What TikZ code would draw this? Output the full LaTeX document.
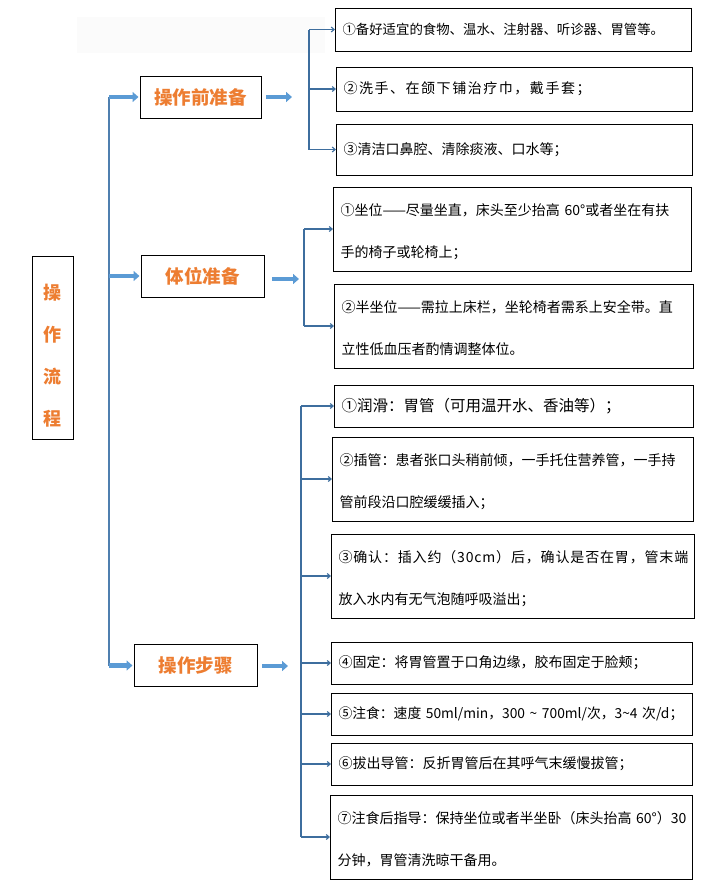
\documentclass[tikz,border=0pt]{standalone}
\usepackage{fontspec}
\setmainfont{Noto Sans CJK SC}
\usetikzlibrary{arrows.meta,calc}
\definecolor{orangeT}{HTML}{ED7D31}
\definecolor{arrowB}{HTML}{5B9BD5}
\definecolor{lineB}{HTML}{3E6E9E}
\definecolor{mainB}{HTML}{4F7FAF}
\definecolor{faintG}{HTML}{FBFBFB}
\begin{document}
\begin{tikzpicture}[x=1pt,y=-1pt,
  every node/.style={inner sep=0pt, outer sep=0pt},
  headbox/.style={draw=black, line width=1pt, minimum height=42pt, text=orangeT,
    font=\fontsize{18.5}{20}\selectfont\bfseries},
  itembox/.style={draw=black, line width=1pt, anchor=north west, align=left,
    inner xsep=7.5pt, font=\fontsize{14}{42}\selectfont},
  bigarrow/.style={line width=4.5pt, draw=arrowB, -{Triangle[length=6pt,width=10pt]}},
  thinline/.style={draw=lineB, line width=1.1pt},
  thinarrow/.style={thinline, -{Straight Barb[length=3pt,width=5pt]}}
]
\useasboundingbox (0,0) rectangle (706,884);
\fill[white] (0,0) rectangle (706,884);
\fill[faintG] (77,17) rectangle (325,53);

% left title
\node[draw=black, line width=1pt, minimum width=41pt, minimum height=183pt] (lc) at (52.5,347.5) {};
\node[text=orangeT, align=center, font=\fontsize{18}{42}\selectfont\bfseries] (lct) at (52.5,355.5) {操\\作\\流\\程};

% headings
\node[headbox, minimum width=121pt] (h1) at (200.5,97) {操作前准备};
\node[headbox, minimum width=123pt] (h2) at (202.5,276) {体位准备};
\node[headbox, minimum width=123pt] (h3) at (195.5,665.5) {操作步骤};

% main bus
\coordinate (mtop) at (109,97);
\draw[draw=mainB, line width=1.3pt] (mtop) -- (mtop |- h3.west);
\foreach \h in {h1,h2,h3}
  \draw[bigarrow, shorten >=1.5pt] (mtop |- \h.west) -- (\h.west);

\coordinate (r1) at (292,97);
\coordinate (r2) at (299,279);
\coordinate (r3) at (288,666);
\draw[bigarrow, shorten <=5pt] (h1.east) -- (r1);
\draw[bigarrow, shorten <=8pt] (h2.east |- r2) -- (r2);
\draw[bigarrow, shorten <=5pt] (h3.east |- r3) -- (r3);

% group A
\node[itembox, text width=341pt, minimum height=43pt, font=\fontsize{13.4}{20}\selectfont] (a1) at (335,8) {\mbox{①备好适宜的食物、温水、注射器、听诊器、胃管等。}};
\node[itembox, text width=341pt, minimum height=44pt] (a2) at (336,67) {\mbox{\addfontfeatures{LetterSpace=11}②洗手、在颌下铺治疗巾，戴手套；}};
\node[itembox, text width=341pt, minimum height=51pt] (a3) at (336,124) {\mbox{③清洁口鼻腔、清除痰液、口水等；}};

% group B
\node[itembox, text width=343pt, minimum height=84pt] (b1) at (333,187) {\rule{0pt}{17pt}\mbox{①坐位——尽量坐直，床头至少抬高 60°或者坐在有扶}\\\mbox{手的椅子或轮椅上；}};
\node[itembox, text width=344pt, minimum height=84pt] (b2) at (334,284) {\rule{0pt}{17pt}\mbox{②半坐位——需拉上床栏，坐轮椅者需系上安全带。直}\\\mbox{立性低血压者酌情调整体位。}};

% group C
\node[itembox, text width=344pt, minimum height=42pt, font=\fontsize{15.5}{20}\selectfont] (c1) at (334,385) {\mbox{①润滑：胃管（可用温开水、香油等）；}};
\node[itembox, text width=346pt, minimum height=84pt] (c2) at (332,437) {\rule{0pt}{17pt}\mbox{②插管：患者张口头稍前倾，一手托住营养管，一手持}\\\mbox{管前段沿口腔缓缓插入；}};
\node[itembox, text width=348pt, minimum height=84pt] (c3) at (331,534) {\rule{0pt}{17pt}\mbox{\addfontfeatures{LetterSpace=6}③确认：插入约（30cm）后，确认是否在胃，管末端}\\\mbox{放入水内有无气泡随呼吸溢出；}};
\node[itembox, text width=346pt, minimum height=42pt] (c4) at (331,642) {\mbox{④固定：将胃管置于口角边缘，胶布固定于脸颊；}};
\node[itembox, text width=346pt, minimum height=42pt, font=\fontsize{13.8}{20}\selectfont] (c5) at (331,693) {\mbox{⑤注食：速度 50ml/min，300 \textasciitilde{} 700ml/次，3\textasciitilde 4 次/d；}};
\node[itembox, text width=346pt, minimum height=42pt] (c6) at (331,743) {\mbox{⑥拔出导管：反折胃管后在其呼气末缓慢拔管；}};
\node[itembox, text width=347pt, minimum height=84pt] (c7) at (330,795) {\rule{0pt}{17pt}\mbox{⑦注食后指导：保持坐位或者半坐卧（床头抬高 60°）30}\\\mbox{分钟，胃管清洗晾干备用。}};

% buses
\coordinate (ba) at (309,0);
\coordinate (bb) at (304,0);
\coordinate (bc) at (301,0);
\draw[thinline] (ba |- a1.west) -- (ba |- a3.west);
\foreach \n in {a1,a2,a3} \draw[thinarrow] (ba |- \n.west) -- (\n.west);
\draw[thinline] (bb |- b1.west) -- (bb |- b2.west);
\foreach \n in {b1,b2} \draw[thinarrow] (bb |- \n.west) -- (\n.west);
\draw[thinline] (bc |- c1.west) -- (bc |- c7.west);
\foreach \n in {c1,c2,c3,c4,c5,c6,c7} \draw[thinarrow] (bc |- \n.west) -- (\n.west);
\end{tikzpicture}
\end{document}
